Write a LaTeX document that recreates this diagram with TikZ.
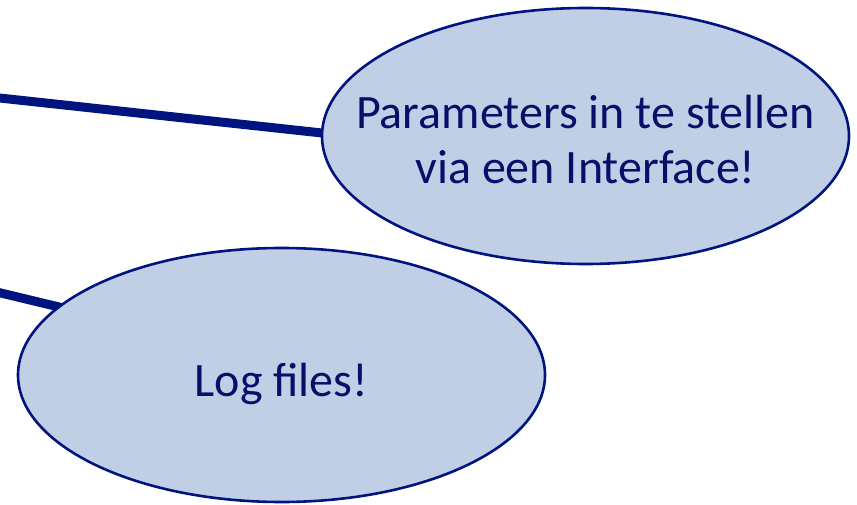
\documentclass[tikz,border=0pt]{standalone}
\usepackage{fontspec}
\setmainfont{Carlito}
\usetikzlibrary{shapes.geometric,backgrounds,calc}
\definecolor{navyline}{RGB}{0,20,128}
\definecolor{navytext}{RGB}{10,14,104}
\definecolor{bubblefill}{RGB}{192,207,230}
\begin{document}
\begin{tikzpicture}[x=1pt,y=1pt,
  bubble/.style={ellipse, draw=navyline, line width=2.6pt, fill=bubblefill,
    minimum width=527pt, minimum height=256pt, inner sep=0pt, outer sep=0pt},
  bubbletext/.style={text=navytext, font=\fontsize{48}{55}\selectfont,
    align=center, inner sep=0pt},
  connector/.style={draw=navyline, line width=9pt, shorten >=-8pt}]
\useasboundingbox (0,0) rectangle (857,504);
\node[bubble] (l1) at (585.5,368) {};
\node[bubble, minimum height=254pt] (l2) at (281.5,129) {};
\node[bubbletext] (t1) at (585.5,364) {Parameters in te stellen\\via een Interface!};
\node[bubbletext, anchor=base] (t2) at (281.5,108) {Log files!};
\coordinate (s1) at (-5,406.5);
\coordinate (s2) at (-5,212.4);
\begin{scope}[on background layer]
\draw[connector] (s1) -- ($(l1.west)+(0,3)$);
\draw[connector] (s2) -- (l2.163.6);
\end{scope}
\end{tikzpicture}
\end{document}
